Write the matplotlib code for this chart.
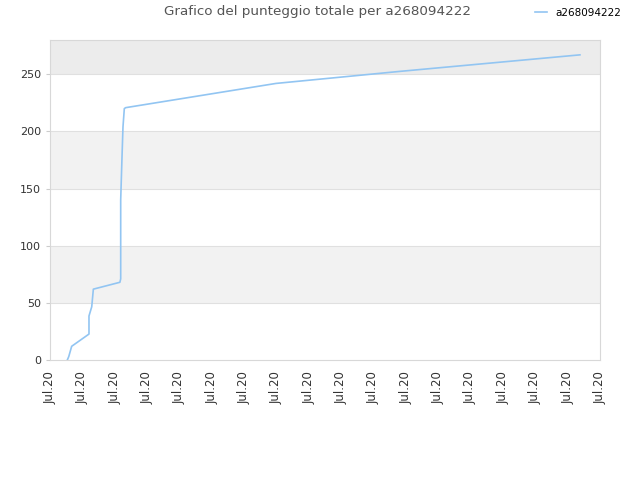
import numpy as np
import matplotlib.pyplot as plt

# x in tick units (one unit per "Jul.20" tick), y = total score
days = [0.535, 0.58, 0.67, 1.205, 1.205, 1.29, 1.34, 2.16, 2.185, 2.185, 2.225, 2.256, 2.297, 2.34, 6.985, 10.8, 16.38]
scores = [0, 3, 12, 22.7, 38.5, 46.6, 62, 68, 71, 140, 177, 204, 220, 220.8, 242, 252.5, 267]
tick_labels = ['Jul.20'] * 18
player = 'a268094222'

fig = plt.figure(figsize=(6.4, 4.8), dpi=100)
ax = fig.add_axes([50 / 640, 120 / 480, 550 / 640, 320 / 480])

# alternating bands
for lo, hi, c in [(50, 100, '#f2f2f2'), (150, 200, '#f2f2f2'), (250, 280, '#ececec')]:
    ax.axhspan(lo, hi, color=c, zorder=0, lw=0)
for y in [50, 100, 150, 200, 250]:
    ax.axhline(y, color='#e0e0e0', lw=0.8, zorder=1)

ax.plot(days, scores, color='#92c5f2', lw=1.2, label=player, zorder=3)

ax.set_xlim(0, 17)
ax.set_ylim(0, 280)
ax.set_xticks(range(18))
ax.set_xticklabels(tick_labels, rotation=90, fontsize=8.5, color='#333333')
ax.set_yticks([0, 50, 100, 150, 200, 250])
ax.tick_params(axis='y', labelsize=8, colors='#333333', length=3, color='#cccccc')
ax.tick_params(axis='x', length=0, pad=8)
for s in ax.spines.values():
    s.set_color('#d8d8d8')
    s.set_linewidth(0.8)

fig.text(318 / 640, 1 - 12 / 480, 'Grafico del punteggio totale per ' + player,
         ha='center', va='center', fontsize=9.7, color='#555555')
fig.legend(loc='center', bbox_to_anchor=(578 / 640, 1 - 13 / 480), frameon=False,
           fontsize=7.5, handlelength=1.2, handletextpad=0.8)

fig.savefig('out.png', dpi=100)
